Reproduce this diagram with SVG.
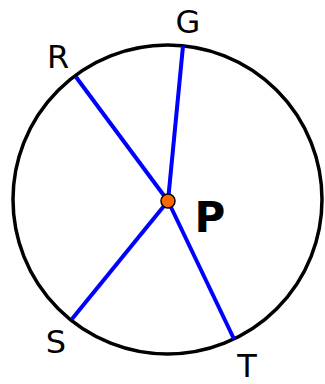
<svg xmlns="http://www.w3.org/2000/svg" width="325" height="384" viewBox="0 0 325 384">
<style>
.lbl{font-family:"DejaVu Sans","Liberation Sans",sans-serif;font-size:32px;fill:#000;text-anchor:middle}
.bold{font-weight:bold;font-size:42px}
.ray{stroke:#0000FF;stroke-width:4;stroke-linecap:butt;fill:none}
</style>
<rect width="325" height="384" fill="#fff"/>
<g id="circle"><circle cx="167.5" cy="199.5" r="154.5" fill="none" stroke="#000" stroke-width="3.5"/></g>
<g id="connectors">
<line class="ray" x1="168" y1="201" x2="183" y2="46"/>
<line class="ray" x1="168" y1="201" x2="76" y2="77"/>
<line class="ray" x1="168" y1="201" x2="72" y2="319"/>
<line class="ray" x1="168" y1="201" x2="234" y2="339"/>
</g>
<g id="P"><circle cx="168" cy="201" r="7" fill="#FF6600" stroke="#000" stroke-width="1.5"/><text class="lbl bold" x="210" y="232">P</text></g>
<g id="G"><text class="lbl" x="188" y="33">G</text></g>
<g id="R"><text class="lbl" x="58" y="68">R</text></g>
<g id="S"><text class="lbl" x="56" y="353">S</text></g>
<g id="T"><text class="lbl" x="247" y="377">T</text></g>
</svg>
